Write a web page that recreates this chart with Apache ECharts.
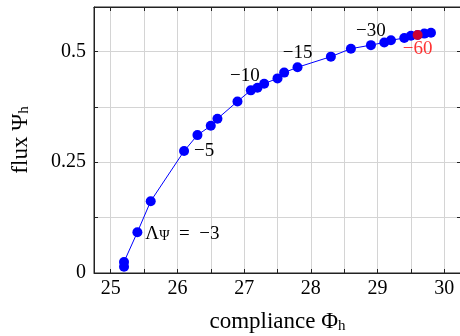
<!DOCTYPE html>
<html>
<head>
<meta charset="utf-8">
<script src="https://cdn.jsdelivr.net/npm/echarts@6/dist/echarts.min.js"></script>
<style>
html,body{margin:0;padding:0;background:#fff;}
#c{width:460px;height:336px;}
</style>
</head>
<body>
<div id="c"></div>
<script>
// ---- data ----
const compliance = [25.2, 25.2, 25.4, 25.6, 26.1, 26.3, 26.5, 26.6, 26.9, 27.1, 27.2, 27.3, 27.5, 27.6, 27.8, 28.3, 28.6, 28.9, 29.1, 29.2, 29.4, 29.5, 29.6, 29.7, 29.8];
const flux = [0.014, 0.025, 0.092, 0.162, 0.275, 0.311, 0.332, 0.348, 0.387, 0.412, 0.418, 0.427, 0.439, 0.452, 0.464, 0.488, 0.506, 0.514, 0.520, 0.525, 0.530, 0.535, 0.537, 0.540, 0.542];
const annotatedIndex = [2, 4, 9, 14, 17];
const annotatedText = ['Λ{sub|Ψ}\u2002=\u2002−3', '−5', '−10', '−15', '−30'];
const highlightIndex = 22;
const highlightText = '−60';
const xTicks = [25, 25.5, 26, 26.5, 27, 27.5, 28, 28.5, 29, 29.5, 30];
const xTickLabels = [25, 26, 27, 28, 29, 30];
const yTicks = [0, 0.125, 0.25, 0.375, 0.5];
const yTickLabels = [0, 0.25, 0.5];

// ---- styles ----
const FONT = 'Liberation Serif';
const labelStyles = [
  {position: 'right', distance: 3, offset: [0, 2]},
  {position: 'right', distance: 5},
  {position: 'top', distance: 0, offset: [-6, 0]},
  {position: 'top', distance: 0},
  {position: 'top', distance: 0}
];
const subRich = {sub: {fontFamily: FONT, fontSize: 14, color: '#000', padding: [13, 0, 0, 0], lineHeight: 14, verticalAlign: 'bottom'}};
const subRichTitle = {sub: {fontFamily: FONT, fontSize: 15, color: '#000', padding: [15, 0, 0, 0], lineHeight: 15, verticalAlign: 'bottom'}};

const lineData = compliance.map((x, i) => {
  const item = {value: [x, flux[i]]};
  const k = annotatedIndex.indexOf(i);
  if (k >= 0) {
    item.label = Object.assign({
      show: true,
      formatter: annotatedText[k],
      color: '#000',
      fontFamily: FONT,
      fontSize: 19,
      rich: subRich
    }, labelStyles[k]);
  }
  return item;
});

const chart = echarts.init(document.getElementById('c'), null, {renderer: 'canvas'});

const axisLineStyle = {color: '#222', width: 1};
const xAxisBase = {
  type: 'value', min: 24.75, max: 30.25,
  axisLine: {show: true, onZero: false, lineStyle: axisLineStyle},
  axisTick: {show: true, inside: true, length: 4, customValues: xTicks, lineStyle: {color: '#222'}},
  minorTick: {show: false}
};
const yAxisBase = {
  type: 'value', min: 0, max: 0.6,
  axisLine: {show: true, onZero: false, lineStyle: axisLineStyle},
  axisTick: {show: true, inside: true, length: 4, customValues: yTicks, lineStyle: {color: '#222'}}
};

chart.setOption({
  animation: false,
  backgroundColor: '#fff',
  grid: {left: 94, top: 7, width: 367, height: 266, containLabel: false, outerBoundsMode: 'none',
         show: true, borderColor: '#222', borderWidth: 1},
  xAxis: [
    Object.assign({}, xAxisBase, {
      position: 'bottom',
      axisLabel: {show: true, customValues: xTickLabels, color: '#000', fontFamily: FONT, fontSize: 20, margin: 6,
                  formatter: v => String(v)},
      splitLine: {show: true, lineStyle: {color: '#d4d4d4', width: 1}},
      name: 'compliance Φ{sub|h}',
      nameLocation: 'middle',
      nameGap: 35,
      nameTextStyle: {color: '#000', fontFamily: FONT, fontSize: 23, rich: subRichTitle}
    }),
    Object.assign({}, xAxisBase, {
      position: 'top',
      axisLabel: {show: false},
      splitLine: {show: false}
    })
  ],
  yAxis: [
    Object.assign({}, yAxisBase, {
      position: 'left',
      axisLabel: {show: true, customValues: yTickLabels, color: '#000', fontFamily: FONT, fontSize: 20, margin: 8,
                  formatter: v => String(v)},
      splitLine: {show: true, lineStyle: {color: '#d4d4d4', width: 1}},
      name: 'flux Ψ{sub|h}',
      nameLocation: 'middle',
      nameGap: 62,
      nameRotate: 90,
      nameTextStyle: {color: '#000', fontFamily: FONT, fontSize: 23, rich: subRichTitle}
    }),
    Object.assign({}, yAxisBase, {
      position: 'right',
      axisLabel: {show: false},
      splitLine: {show: false}
    })
  ],
  series: [
    {
      type: 'line',
      xAxisIndex: 0, yAxisIndex: 0,
      data: lineData,
      symbol: 'circle',
      symbolSize: 10,
      showAllSymbol: true,
      lineStyle: {color: '#0000ff', width: 1},
      itemStyle: {color: '#0000ff'},
      z: 3
    },
    {
      type: 'scatter',
      xAxisIndex: 0, yAxisIndex: 0,
      data: [{
        value: [compliance[highlightIndex], flux[highlightIndex]],
        label: {show: true, formatter: highlightText, position: 'bottom', distance: 0,
                color: '#ff0000', fontFamily: FONT, fontSize: 19}
      }],
      symbol: 'circle',
      symbolSize: 10,
      itemStyle: {color: '#ff0000'},
      z: 4
    }
  ]
});
</script>
</body>
</html>
